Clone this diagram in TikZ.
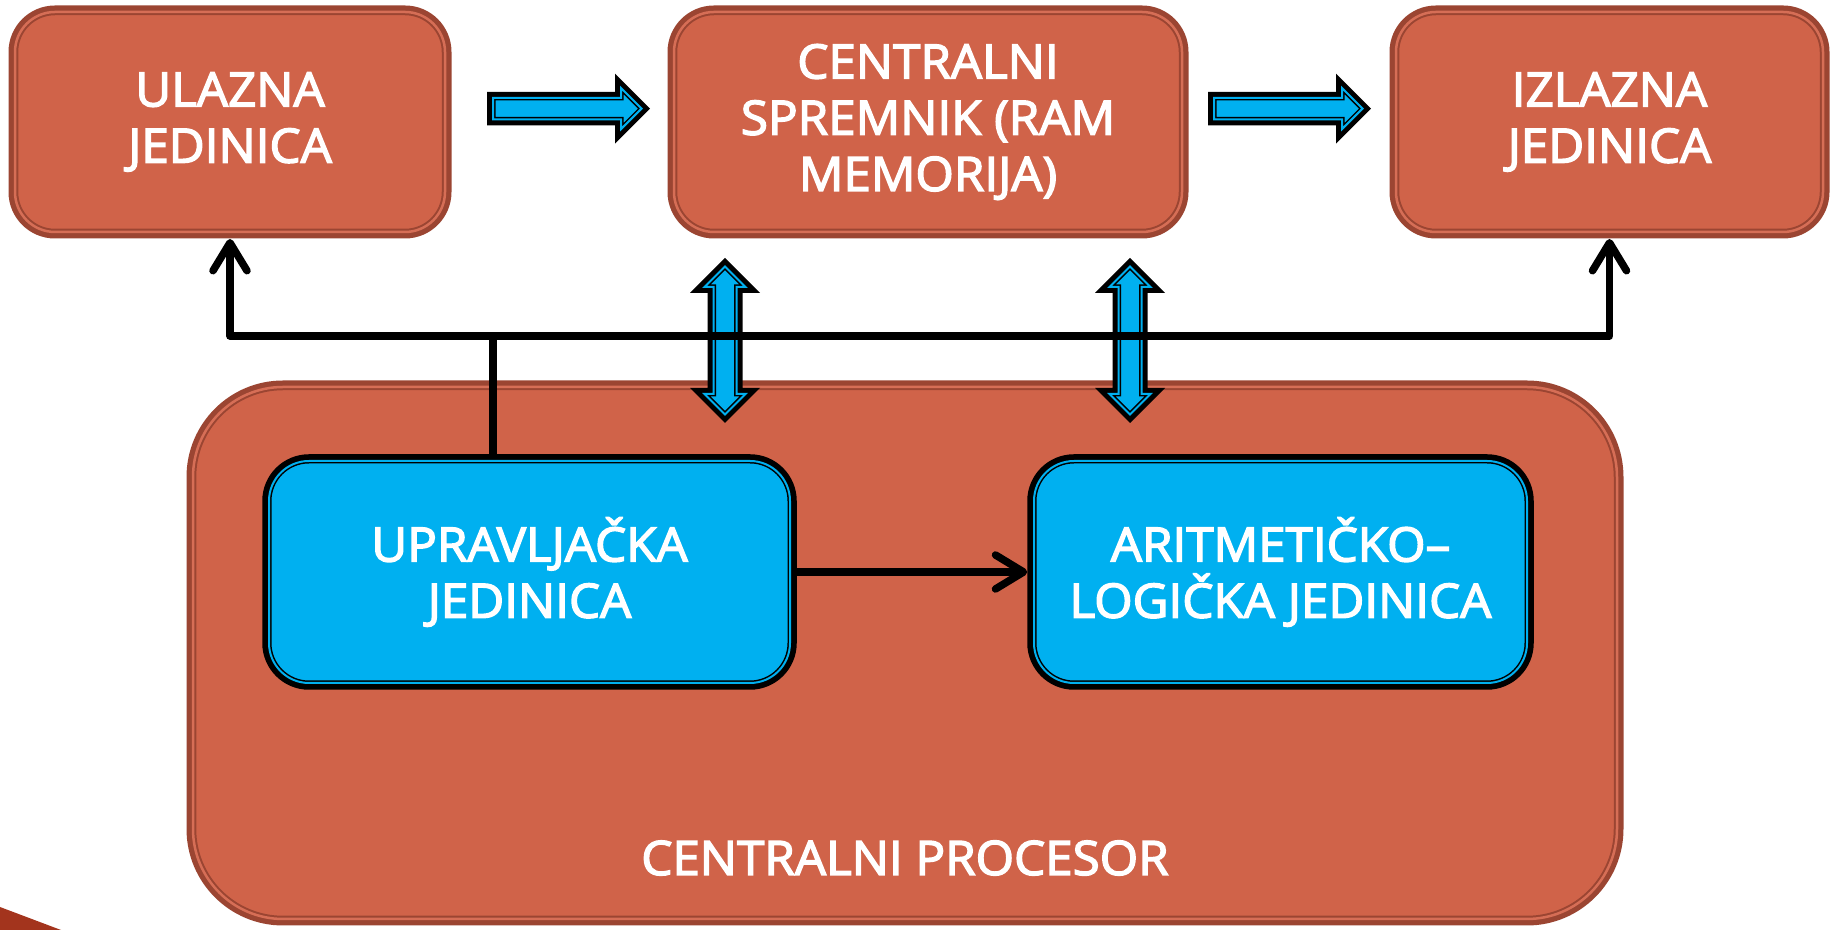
\documentclass[tikz,border=0pt]{standalone}
\usepackage{fontspec}
\setmainfont{Open Sans}
\newfontfamily\tekstfont{Open Sans}[FakeBold=3, FakeStretch=1.04]
\usetikzlibrary{arrows.meta,calc}

\definecolor{cihla}{RGB}{208,99,73}
\definecolor{cihlarub}{RGB}{155,69,50}
\definecolor{cihlasvj}{RGB}{214,110,86}
\definecolor{plavo}{RGB}{0,176,240}
\definecolor{ukrasboja}{RGB}{163,52,29}

\tikzset{
  kuka/.tip={Straight Barb[round,length=2.8mm,width=3.4mm]},
  jedinica/.style={rectangle, rounded corners=4mm, fill=cihla, draw=cihlarub,
    line width=0.2mm, double=cihlasvj, double distance=0.25mm,
    preaction={draw=cihlarub, line width=1.3mm}, inner sep=0pt},
  plavi/.style={rectangle, rounded corners=4mm, fill=plavo, draw=black,
    line width=0.15mm, double=plavo, double distance=0.2mm,
    preaction={draw=black, line width=1.35mm}, inner sep=0pt},
  strelica/.style={fill=plavo, draw=black, line width=0.15mm, double=plavo,
    double distance=0.2mm, line join=miter},
  sabirnica/.style={draw=black, line width=0.75mm, line cap=round, line join=round},
}

\begin{document}
\begin{tikzpicture}[x=0.1mm, y=-0.1mm,
  every node/.style={font=\tekstfont\fontsize{13.5pt}{16pt}\selectfont, text=white, align=center}]
  \useasboundingbox (0,0) rectangle (1831,930);

  %----- makroi za debele strelice -----
  \def\desnastr#1{ % (x pocetka) strelica udesno
    \fill[black] (#1,91.9) -- ++(128,0) -- ++(0,-18.3) -- ++(35,35) -- ++(-35,35)
      -- ++(0,-18.3) -- ++(-128,0) -- cycle;
    \draw[strelica] (#1+6,97.9) -- ++(128,0) -- ++(0,-9.8) -- ++(20.5,20.5)
      -- ++(-20.5,20.5) -- ++(0,-9.8) -- ++(-128,0) -- cycle;
  }
  \def\dvostr#1{ % (x sredine) strelica gore-dolje
    \fill[black] (#1,258) -- ++(35,35) -- ++(-17.5,0) -- ++(0,95) -- ++(17.5,0)
      -- ++(-35,35) -- ++(-35,-35) -- ++(17.5,0) -- ++(0,-95) -- ++(-17.5,0) -- cycle;
    \draw[strelica] (#1,266.5) -- ++(20.5,20.5) -- ++(-9,0) -- ++(0,107) -- ++(9,0)
      -- ++(-20.5,20.5) -- ++(-20.5,-20.5) -- ++(9,0) -- ++(0,-107) -- ++(-9,0) -- cycle;
  }

  %----- ukras u kutu -----
  \fill[ukrasboja] (0,907) -- (61,930) -- (0,930) -- cycle;

  %----- gornji red -----
  \node[jedinica, minimum width=43mm, minimum height=22mm] (ulazna) at (230,122)
    {ULAZNA\\JEDINICA};
  \node[jedinica, minimum width=50.8mm, minimum height=22mm] (spremnik) at (928,122)
    {CENTRALNI\\SPREMNIK (RAM\\MEMORIJA)};
  \node[jedinica, minimum width=42.7mm, minimum height=22mm] (izlazna) at (1609.5,122)
    {IZLAZNA\\JEDINICA};

  % ulaz -> spremnik -> izlaz
  \desnastr{487}
  \desnastr{1208}

  %----- procesor -----
  \node[jedinica, rounded corners=9mm, minimum width=142.4mm, minimum height=53.2mm]
    (procesor) at (905,653) {};
  \node (proctekst) at (905,858) {CENTRALNI PROCESOR};

  % spremnik <-> procesor
  \dvostr{725}
  \dvostr{1130}

  %----- sabirnica -----
  \draw[sabirnica, kuka-kuka] (ulazna.south) ++(0,6) -- ++(0,97) coordinate (sabL)
    -| ($(izlazna.south)+(0,6)$);

  %----- jedinice procesora -----
  \node[plavi, minimum width=52.1mm, minimum height=22.2mm] (upravljacka) at (529.5,572)
    {UPRAVLJAČKA\\JEDINICA};
  \node[plavi, minimum width=49.3mm, minimum height=22.2mm] (alu) at (1280.5,572)
    {ARITMETIČKO–\\LOGIČKA JEDINICA};

  \coordinate (upr) at ($(upravljacka.north)+(-36.5,-6)$);
  \draw[sabirnica] (upr) -- (upr |- sabL);
  \draw[sabirnica, -kuka] ($(upravljacka.east)+(6,0)$) -- ($(alu.west)+(-6,0)$);
\end{tikzpicture}
\end{document}
